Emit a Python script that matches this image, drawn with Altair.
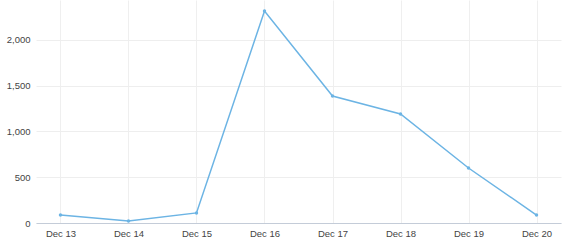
import altair as alt
import pandas as pd

days = ["Dec 13", "Dec 14", "Dec 15", "Dec 16", "Dec 17", "Dec 18", "Dec 19", "Dec 20"]
values = [87, 22, 110, 2317, 1388, 1191, 601, 87]

df = pd.DataFrame({"day": days, "value": values})

base = alt.Chart(df).encode(
    x=alt.X("day:O", sort=days,
            scale=alt.Scale(type="point", padding=0.36),
            axis=alt.Axis(title=None, labelAngle=0, ticks=False, grid=True,
                          gridColor="#efefef", domainColor="#c4ccd8",
                          labelColor="#444444", labelFontSize=9.5, labelPadding=5,
                          labelFont="Liberation Sans")),
    y=alt.Y("value:Q",
            scale=alt.Scale(domain=[0, 2437], nice=False, zero=True),
            axis=alt.Axis(title=None, values=[0, 500, 1000, 1500, 2000], format=",.0f",
                          ticks=False, domain=False, grid=True, gridColor="#eeeeee",
                          labelColor="#444444", labelFontSize=9.5, labelPadding=6,
                          labelFont="Liberation Sans")),
)

line = base.mark_line(color="#6cb4e4", strokeWidth=1.5)
pts = base.mark_point(color="#6cb4e4", filled=True, size=12, opacity=1)

chart = (line + pts).properties(
    width=525, height=223,
    autosize=alt.AutoSizeParams(type="none"),
    padding={"left": 36, "top": 0, "right": 9, "bottom": 21},
).configure_view(stroke=None)

chart.save("out.html", embed_options={"renderer": "svg", "actions": False})
